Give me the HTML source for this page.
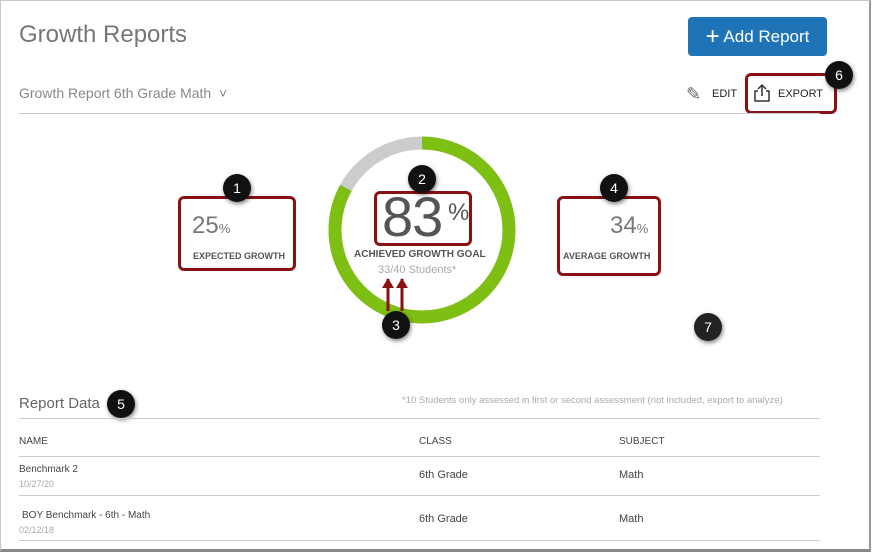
<!DOCTYPE html>
<html><head><style>
body{margin:0;width:874px;height:556px;background:#fff;font-family:"Liberation Sans",sans-serif;position:relative;overflow:hidden}
.a{position:absolute}
.frame{left:0;top:0;width:871px;height:552px;border:1px solid #c8c8c8;border-right:2px solid #999;border-bottom:3px solid #888;box-sizing:border-box}
.badge{position:absolute;width:28px;height:28px;border-radius:50%;background:#111;color:#fff;font-size:14px;text-align:center;line-height:28px;box-shadow:1px 2px 4px rgba(0,0,0,.5)}
.red{position:absolute;border:3px solid #8b1212;border-radius:6px;box-sizing:border-box}
.lbl{font-size:10px;font-weight:bold;color:#555}
.hr{position:absolute;height:1px;background:#ccc}
.cell{position:absolute;font-size:11px;color:#444}
.sub{position:absolute;font-size:9px;color:#aaa}
</style></head><body>
<div class="a frame"></div>
<div class="a" style="left:19px;top:21px;font-size:24px;color:#777">Growth Reports</div>
<div class="a" style="left:688px;top:17px;width:139px;height:39px;background:#1f74b8;border-radius:4px;color:#fff;font-size:17px;line-height:39px;text-align:center"><span style="font-size:24px;vertical-align:-2px">+</span> Add Report</div>
<div class="a" style="left:19px;top:85px;font-size:14px;color:#888">Growth Report 6th Grade Math&nbsp;&nbsp;˅</div>
<div class="a" style="left:686px;top:84px;font-size:18px;color:#666">✎</div>
<div class="a" style="left:712px;top:88px;font-size:11px;color:#222">EDIT</div>
<svg class="a" style="left:752px;top:83px" width="20" height="20"><path d="M6 8H3v10h14V8h-3M10 2v11M6 6l4-4 4 4" fill="none" stroke="#333" stroke-width="1.5"/></svg>
<div class="a" style="left:778px;top:88px;font-size:11px;color:#222">EXPORT</div>
<div class="red" style="left:745px;top:73px;width:92px;height:41px"></div>
<div class="badge" style="left:825px;top:61px">6</div>
<div class="hr" style="left:19px;top:113px;width:801px"></div>

<svg class="a" style="left:322px;top:130px" width="200" height="200">
<circle cx="100" cy="100" r="87" fill="none" stroke="#cccccc" stroke-width="13"/>
<circle cx="100" cy="100" r="87" fill="none" stroke="#7dbf13" stroke-width="13" stroke-dasharray="453.7 600" transform="rotate(-90 100 100)"/>
</svg>
<div class="red" style="left:178px;top:196px;width:118px;height:75px"></div>
<div class="a" style="left:192px;top:212px;font-size:24px;color:#777">25<span style="font-size:13px">%</span></div>
<div class="a lbl" style="left:193px;top:251px;font-size:9px">EXPECTED GROWTH</div>
<div class="badge" style="left:223px;top:174px">1</div>

<div class="red" style="left:374px;top:191px;width:98px;height:55px"></div>
<div class="a" style="left:382px;top:184px;font-size:56px;color:#555;letter-spacing:-1px">83<span style="font-size:24px;vertical-align:16px"> %</span></div>
<div class="a lbl" style="left:354px;top:249px">ACHIEVED GROWTH GOAL</div>
<div class="a" style="left:378px;top:264px;font-size:11px;color:#aaa">33/40 Students*</div>
<div class="badge" style="left:408px;top:165px">2</div>
<svg class="a" style="left:378px;top:275px" width="40" height="40"><path d="M10 4v32M24 4v32" stroke="#8b1212" stroke-width="3"/><path d="M4 13l6-10 6 10zM18 13l6-10 6 10z" fill="#8b1212"/></svg>
<div class="badge" style="left:382px;top:311px">3</div>

<div class="red" style="left:557px;top:196px;width:104px;height:80px"></div>
<div class="a" style="left:610px;top:212px;font-size:24px;color:#777">34<span style="font-size:13px">%</span></div>
<div class="a lbl" style="left:563px;top:251px;font-size:9px">AVERAGE GROWTH</div>
<div class="badge" style="left:600px;top:174px">4</div>
<div class="badge" style="left:694px;top:313px;background:#222">7</div>

<div class="a" style="left:19px;top:395px;font-size:15px;color:#666">Report Data</div>
<div class="badge" style="left:107px;top:390px">5</div>
<div class="a" style="left:402px;top:395px;font-size:9.5px;color:#aaa">*10 Students only assessed in first or second assessment (not included, export to analyze)</div>
<div class="hr" style="left:19px;top:418px;width:801px"></div>
<div class="cell" style="left:19px;top:436px;font-size:10px">NAME</div>
<div class="cell" style="left:419px;top:436px;font-size:10px">CLASS</div>
<div class="cell" style="left:619px;top:436px;font-size:10px">SUBJECT</div>
<div class="hr" style="left:19px;top:456px;width:801px"></div>
<div class="cell" style="left:19px;top:464px;font-size:10px">Benchmark 2</div>
<div class="sub" style="left:19px;top:479px">10/27/20</div>
<div class="cell" style="left:419px;top:469px">6th Grade</div>
<div class="cell" style="left:619px;top:469px">Math</div>
<div class="hr" style="left:19px;top:495px;width:801px"></div>
<div class="cell" style="left:22px;top:510px;font-size:10px">BOY Benchmark - 6th - Math</div>
<div class="sub" style="left:19px;top:525px">02/12/18</div>
<div class="cell" style="left:419px;top:513px">6th Grade</div>
<div class="cell" style="left:619px;top:513px">Math</div>
<div class="hr" style="left:19px;top:540px;width:801px"></div>
</body></html>
